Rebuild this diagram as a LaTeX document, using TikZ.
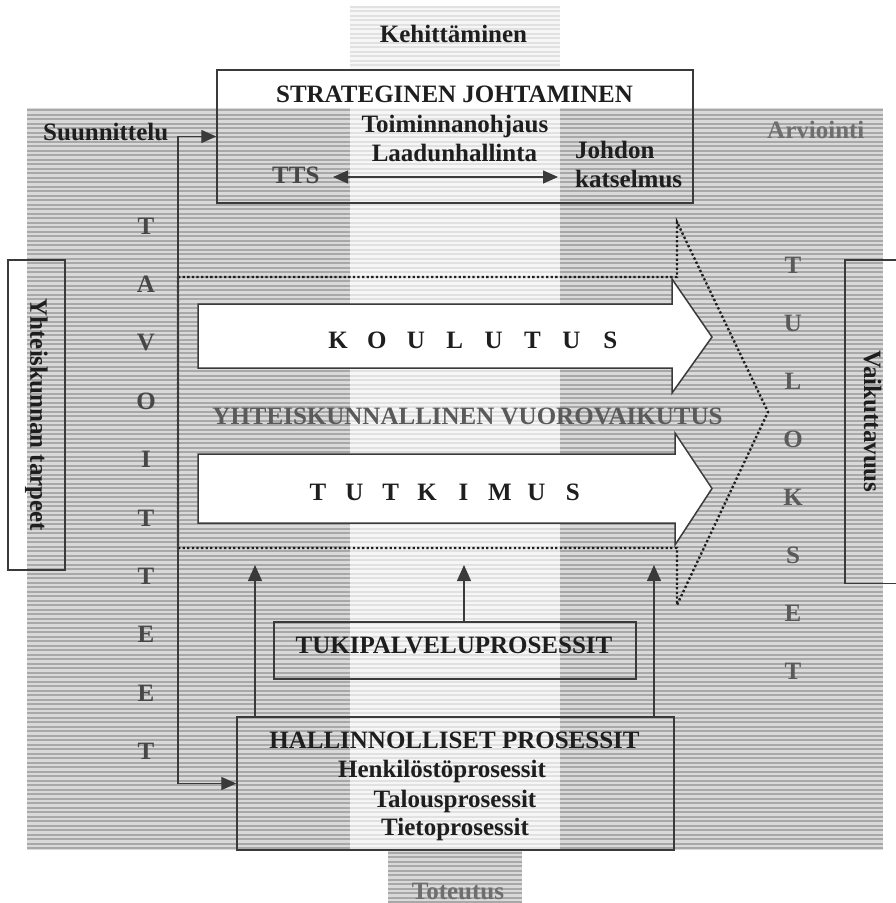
\documentclass[tikz,border=0pt]{standalone}
\usepackage{fontspec}
\setmainfont{Liberation Serif}
\usetikzlibrary{arrows.meta}
\definecolor{gdark}{HTML}{A8A8A8}
\definecolor{gbase}{HTML}{D9D9D9}
\definecolor{ldark}{HTML}{E1E1E1}
\definecolor{lbase}{HTML}{F6F6F6}
\definecolor{ink}{HTML}{1E1E1E}
\definecolor{lineink}{HTML}{3A3A3A}
\definecolor{softink}{HTML}{474747}
\definecolor{midink}{HTML}{5A5A5A}
\definecolor{paleink}{HTML}{6E6E6E}
\newcommand{\stripezone}[6]{%
  \fill[#5] (#1,#2) rectangle (#3,#4);
  \begin{scope}
    \clip (#1,#2) rectangle (#3,#4);
    \foreach \yy in {2.2,6.7,...,903} \draw[#6, line width=2.2pt] (#1,\yy) -- (#3,\yy);
  \end{scope}}
\begin{document}
\begin{tikzpicture}[x=1pt,y=-1pt,
  txt/.style={font=\bfseries\fontsize{25}{29}\selectfont, text=ink, inner sep=0pt},
  boxline/.style={draw=lineink, line width=1.4pt},
  conn/.style={draw=lineink, line width=1.3pt},
  tip/.style={-{Triangle[length=16pt,width=14pt]}},
  tipboth/.style={{Triangle[length=15pt,width=13pt]}-{Triangle[length=15pt,width=13pt]}},
  dotline/.style={draw=ink, line width=2.3pt, dash pattern=on 2.3pt off 2.3pt},
  bigarrow/.style={draw=lineink, line width=1.5pt, fill=white}
]
\useasboundingbox (0,0) rectangle (895,903);
\fill[white] (0,0) rectangle (895,903);

% striped background
\stripezone{27}{108}{883}{850}{gbase}{gdark}
\stripezone{350}{108}{560}{850}{lbase}{ldark}
\stripezone{350}{6}{560}{70}{lbase}{ldark}
\stripezone{388}{850}{522}{903}{gbase}{gdark}

% dotted outline of the big arrow
\draw[dotline] (178,277) -- (677,277) -- (677,222) -- (768,412) -- (677,605) -- (677,548) -- (178,548) -- cycle;

% KOULUTUS and TUTKIMUS arrows
\draw[bigarrow] (198,304) -- (672,304) -- (672,279) -- (712,337) -- (672,393) -- (672,368) -- (198,368) -- cycle;
\draw[bigarrow] (198,454) -- (675,454) -- (675,433) -- (712,488.5) -- (675,545) -- (675,523) -- (198,523) -- cycle;
\foreach \l [count=\i from 0] in {K,O,U,L,U,T,U,S}
  \node[txt] (kou\i) at ({338+38.9*\i},340) {\l};
\foreach \l [count=\i from 0] in {T,U,T,K,I,M,U,S}
  \node[txt] (tut\i) at ({318+36.4*\i},492) {\l};
\node[txt, text=midink] (vuoro) at (467.5,416) {YHTEISKUNNALLINEN VUOROVAIKUTUS};

% boxes
\node[boxline, minimum width=476pt, minimum height=133pt, inner sep=0pt] (strat) at (455,136.5) {};
\node[boxline, minimum width=362pt, minimum height=57pt, inner sep=0pt] (tuki) at (455,650.5) {};
\node[boxline, minimum width=437pt, minimum height=133pt, inner sep=0pt] (hall) at (455.5,783.5) {};
\node[txt, boxline, minimum width=57pt, minimum height=310pt] (needs) at (36.5,415) {\rotatebox{-90}{Yhteiskunnan tarpeet}};
\node[txt, minimum width=55pt, minimum height=323pt] (vaik) at (872.5,421.5) {\rotatebox{-90}{Vaikuttavuus}};
\draw[boxline] (vaik.north east) -- (vaik.north west) -- (vaik.south west) -- (vaik.south east);

% texts
\node[txt, anchor=base] (kehit) at (453.5,42) {Kehittäminen};
\node[txt, anchor=base] (stratT) at (454.5,102) {STRATEGINEN JOHTAMINEN};
\node[txt, anchor=base] (toim) at (455,132) {Toiminnanohjaus};
\node[txt, anchor=base] (laad) at (454.5,161) {Laadunhallinta};
\node[txt, anchor=base west, text=softink] (tts) at (272,183) {TTS};
\node[txt, anchor=base west] (johd) at (575,158) {Johdon};
\node[txt, anchor=base west] (kats) at (575,187) {katselmus};
\node[txt, anchor=base west] (suun) at (43,140) {Suunnittelu};
\node[txt, anchor=base west, text=paleink] (arv) at (767,138) {Arviointi};
\node[txt, anchor=base, text=paleink] (tot) at (458,899) {Toteutus};
\node[txt, anchor=base] (tukiT) at (454,653) {TUKIPALVELUPROSESSIT};
\node[txt, anchor=base] (hallT) at (454.5,748) {HALLINNOLLISET PROSESSIT};
\node[txt, anchor=base] (henk) at (442,777) {Henkilöstöprosessit};
\node[txt, anchor=base] (talo) at (455,807) {Talousprosessit};
\node[txt, anchor=base] (tieto) at (455,835) {Tietoprosessit};

\foreach \l [count=\i from 0] in {T,A,V,O,I,T,T,E,E,T}
  \node[txt, text=softink] (tav\i) at (146,{226+58.4*\i}) {\l};
\foreach \l [count=\i from 0] in {T,U,L,O,K,S,E,T}
  \node[txt, text=midink] (tul\i) at (793,{265+58.1*\i}) {\l};

% connectors
\coordinate (ttsL) at (333,177);
\coordinate (ttsR) at (558,177);
\draw[conn, tipboth] (ttsL) -- (ttsR);
\coordinate (bend) at (178,460);
\draw[conn, tipboth] (strat.west) -| (bend) |- (hall.west);
\coordinate (a1) at (255,565);
\coordinate (a2) at (464,565);
\coordinate (a3) at (654,565);
\draw[conn, tip] (hall.north -| a1) -- (a1);
\draw[conn, tip] (tuki.north -| a2) -- (a2);
\draw[conn, tip] (hall.north -| a3) -- (a3);
\end{tikzpicture}
\end{document}
